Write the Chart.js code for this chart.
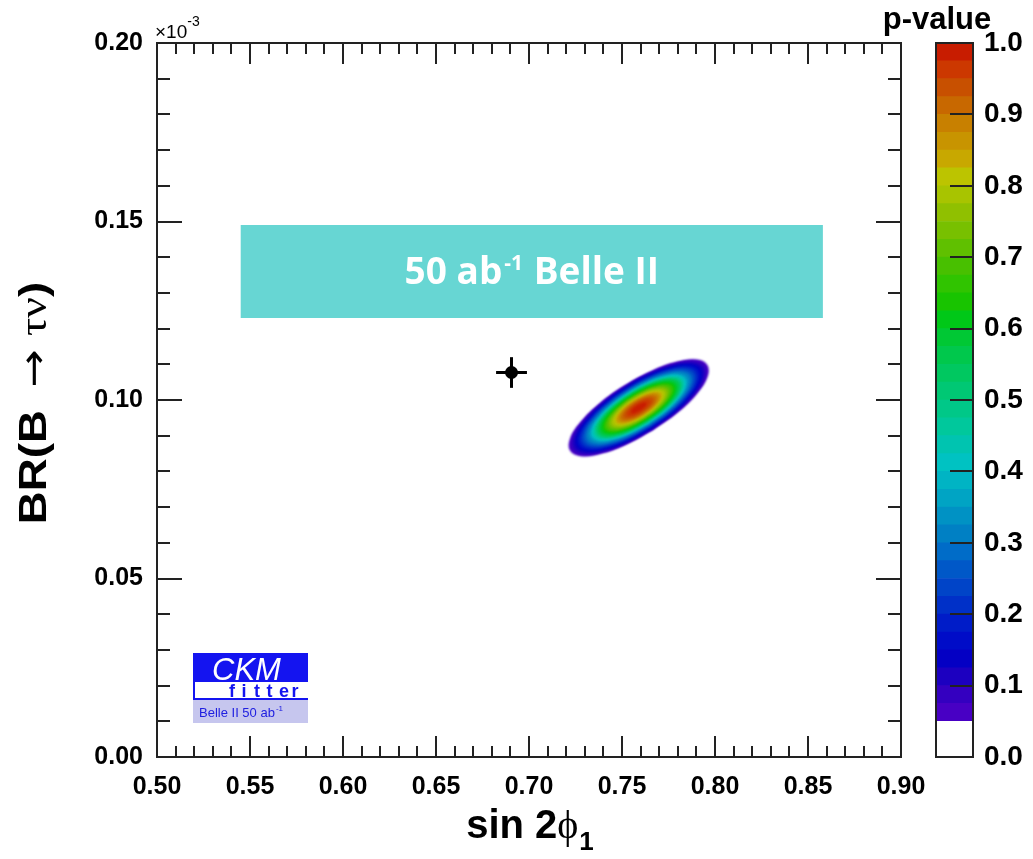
<!DOCTYPE html>
<html>
<head>
<meta charset="utf-8">
<script src="https://cdn.jsdelivr.net/npm/chart.js@4.4.1/dist/chart.umd.min.js"></script>
<style>
html,body{margin:0;padding:0;background:#fff;}
#wrap{position:relative;width:1033px;height:859px;overflow:hidden;}
#main{position:absolute;left:0;top:0;}
#scale{position:absolute;left:860px;top:0;}
</style>
</head>
<body>
<div id="wrap">
<canvas id="main" width="1033" height="859"></canvas>
<canvas id="scale" width="173" height="859"></canvas>
</div>
<script>
// ---- axes ----
const xTicks = [0.50, 0.55, 0.60, 0.65, 0.70, 0.75, 0.80, 0.85, 0.90];
const yTicks = [0.00, 0.05, 0.10, 0.15, 0.20];          // units of 1e-3
const pTicks = [0.0, 0.1, 0.2, 0.3, 0.4, 0.5, 0.6, 0.7, 0.8, 0.9, 1.0];
const xMinorStep = 0.01;
const yMinorStep = 0.01;

// ---- Belle II 50 ab^-1 projection band (sin2phi1 range, BR range) ----
const bandSin2phi = [0.545, 0.858];
const bandBR = [0.123, 0.149];

// ---- current measurement with errors ----
const measSin2phi = 0.6906, measSin2phiErr = 0.0083;
const measBR = 0.1077, measBRErr = 0.0043;

// ---- fit: best point and unit contour shape (offsets from best point) ----
const fitCenter = [0.7590, 0.0978];
const unitShapeDX = [0.00302, -0.00287, -0.00831, -0.01249, -0.01477, -0.01481, -0.01258, -0.00845,
                     -0.00302, 0.00287, 0.00831, 0.01249, 0.01477, 0.01481, 0.01258, 0.00845, 0.00302];
const unitShapeDY = [-0.00252, -0.00417, -0.00518, -0.00541, -0.00481, -0.00348, -0.00162, 0.00049,
                     0.00252, 0.00417, 0.00518, 0.00541, 0.00481, 0.00348, 0.00162, -0.00049, -0.00252];

// p-value contour levels and the size of each contour relative to the unit shape
const pLevels = [0.050, 0.075, 0.100, 0.125, 0.150, 0.175, 0.200, 0.225, 0.250, 0.275,
                 0.300, 0.325, 0.350, 0.375, 0.400, 0.425, 0.450, 0.475, 0.500, 0.525,
                 0.550, 0.575, 0.600, 0.625, 0.650, 0.675, 0.700, 0.725, 0.750, 0.775,
                 0.800, 0.825, 0.850, 0.875, 0.900, 0.925, 0.950, 0.975];
const levelScale = [2.50, 2.42, 2.35, 2.27, 2.20, 2.14, 2.08, 2.02, 1.96, 1.90,
                    1.85, 1.79, 1.73, 1.69, 1.66, 1.62, 1.58, 1.54, 1.50, 1.47,
                    1.43, 1.38, 1.33, 1.27, 1.22, 1.17, 1.11, 1.06, 1.00, 0.95,
                    0.88, 0.82, 0.76, 0.70, 0.63, 0.54, 0.43, 0.28];

// ---- p-value colour palette: band edges and colours ----
const paletteEdges = [0.000, 0.050, 0.075, 0.100, 0.125, 0.150, 0.175, 0.200, 0.225, 0.250, 0.275,
                      0.300, 0.325, 0.350, 0.375, 0.400, 0.425, 0.450, 0.475, 0.500, 0.525,
                      0.550, 0.575, 0.600, 0.625, 0.650, 0.675, 0.700, 0.725, 0.750, 0.775,
                      0.800, 0.825, 0.850, 0.875, 0.900, 0.925, 0.950, 0.975, 1.000];
const paletteColors = ['#ffffff',
  '#4800c4', '#3400c0', '#1c00c0', '#0400c4', '#000cc8', '#001cc8', '#0030c8', '#0044c8',
  '#0058c8', '#006cc8', '#0080c4', '#0092c4', '#00a4c4', '#00b4c4', '#00c2c2', '#00c4b0',
  '#00c89c', '#00c888', '#00c874', '#00c860', '#00c84c', '#00c834', '#00c818', '#18c400',
  '#30c400', '#48c000', '#60c000', '#78c000', '#90c000', '#a8c400', '#bcc400', '#c8a800',
  '#c89400', '#c88000', '#c86800', '#c85000', '#cc3800', '#c81c00'];

const SANS = '"Liberation Sans", Arial, Helvetica, sans-serif';
const SERIF = '"Liberation Serif", "Times New Roman", serif';

// text made of runs with their own fonts and offsets
function runsWidth(ctx, runs) {
  let w = 0;
  for (const r of runs) { ctx.font = r.font; w += ctx.measureText(r.t).width + (r.gap || 0); }
  return w;
}
function drawRuns(ctx, runs, x, y) {
  for (const r of runs) {
    ctx.font = r.font;
    ctx.fillText(r.t, x, y + (r.dy || 0));
    x += ctx.measureText(r.t).width + (r.gap || 0);
  }
}

function tickValues(min, max, step) {
  const out = [];
  const k0 = Math.round(min / step), k1 = Math.round(max / step);
  for (let k = k0; k <= k1; k++) out.push(k * step);
  return out;
}
const isMajor = (v, majors) => majors.some(m => Math.abs(m - v) < 1e-9);

// ---- datasets ----
const bandDataset = {
  label: 'Belle II 50 ab-1',
  data: [
    {x: bandSin2phi[0], y: bandBR[0]}, {x: bandSin2phi[1], y: bandBR[0]},
    {x: bandSin2phi[1], y: bandBR[1]}, {x: bandSin2phi[0], y: bandBR[1]},
    {x: bandSin2phi[0], y: bandBR[0]}
  ],
  showLine: true, fill: 'shape', backgroundColor: '#67d6d3', borderWidth: 0,
  pointRadius: 0, tension: 0, order: 200, role: 'band'
};

const contourDatasets = pLevels.map((p, i) => ({
  label: 'p > ' + p.toFixed(3),
  data: unitShapeDX.map((dx, j) => ({
    x: fitCenter[0] + levelScale[i] * dx,
    y: fitCenter[1] + levelScale[i] * unitShapeDY[j]
  })),
  showLine: true, fill: 'shape', backgroundColor: paletteColors[i + 1], borderWidth: 0,
  pointRadius: 0, tension: 0.4, order: 100 - i,
  role: i === pLevels.length - 1 ? 'lastContour' : 'contour'
}));

const errorDatasets = [
  { label: 'sin2phi1 error',
    data: [{x: measSin2phi - measSin2phiErr, y: measBR}, {x: measSin2phi + measSin2phiErr, y: measBR}],
    showLine: true, borderColor: '#000', borderWidth: 3, pointRadius: 0, order: 2, borderCapStyle: 'butt' },
  { label: 'BR error',
    data: [{x: measSin2phi, y: measBR - measBRErr}, {x: measSin2phi, y: measBR + measBRErr}],
    showLine: true, borderColor: '#000', borderWidth: 3, pointRadius: 0, order: 1, borderCapStyle: 'butt' },
  { label: 'measurement',
    data: [{x: measSin2phi, y: measBR}],
    showLine: false, backgroundColor: '#000', borderColor: '#000', pointRadius: 6.5, borderWidth: 0, order: 0 }
];

// ---- frame, ticks, titles and labels of the main pad ----
const framePlugin = {
  id: 'frame',
  afterDatasetDraw(chart, args) {
    const role = chart.data.datasets[args.index].role;
    if (role === 'band') chart.ctx.filter = 'blur(1.1px)';
    if (role === 'lastContour') chart.ctx.filter = 'none';
  },
  afterDraw(chart) {
    const {ctx, chartArea: a, scales: {x, y}} = chart;
    ctx.save();
    ctx.filter = 'none';
    ctx.strokeStyle = '#222';
    ctx.lineWidth = 2;
    ctx.lineCap = 'butt';
    ctx.beginPath();
    for (const v of tickValues(x.min, x.max, xMinorStep)) {
      const px = Math.round(x.getPixelForValue(v));
      const len = isMajor(v, xTicks) ? 21 : 11;
      ctx.moveTo(px, a.bottom); ctx.lineTo(px, a.bottom - len);
      ctx.moveTo(px, a.top); ctx.lineTo(px, a.top + len);
    }
    for (const v of tickValues(y.min, y.max, yMinorStep)) {
      const py = Math.round(y.getPixelForValue(v));
      const len = isMajor(v, yTicks) ? 25 : 13;
      ctx.moveTo(a.left, py); ctx.lineTo(a.left + len, py);
      ctx.moveTo(a.right, py); ctx.lineTo(a.right - len, py);
    }
    ctx.stroke();
    ctx.strokeRect(a.left, a.top, a.right - a.left, a.bottom - a.top);

    ctx.fillStyle = '#000';
    ctx.textAlign = 'left';
    ctx.textBaseline = 'alphabetic';
    // exponent of the y axis
    drawRuns(ctx, [
      {t: '\u00d710', font: '19px ' + SANS},
      {t: '-3', font: '14px ' + SANS, dy: -12}
    ], a.left - 2, a.top - 5);

    // x axis title
    const xt = [
      {t: 'sin 2', font: 'bold 40px ' + SANS},
      {t: '\u03d5', font: '40px ' + SERIF, gap: 1},
      {t: '1', font: 'bold 26px ' + SANS, dy: 12}
    ];
    drawRuns(ctx, xt, 530 - runsWidth(ctx, xt) / 2, 838);

    // y axis title (wide glyphs along the text direction)
    const yt = [
      {t: 'BR(B', font: 'bold 38px ' + SANS, gap: 19},
      {t: '\u2192', font: '38px "DejaVu Sans", sans-serif', gap: 11},
      {t: '\u03c4\u03bd', font: '38px ' + SERIF},
      {t: ')', font: 'bold 38px ' + SANS}
    ];
    ctx.save();
    ctx.translate(46, 403);
    ctx.rotate(-Math.PI / 2);
    ctx.scale(1.2, 1);
    drawRuns(ctx, yt, -runsWidth(ctx, yt) / 2, 0);
    ctx.restore();

    // label of the projection band
    const bx = (x.getPixelForValue(bandSin2phi[0]) + x.getPixelForValue(bandSin2phi[1])) / 2;
    const by = (y.getPixelForValue(bandBR[0]) + y.getPixelForValue(bandBR[1])) / 2;
    const bt = [
      {t: '50 ab', font: 'bold 37px "Open Sans", sans-serif', gap: 2},
      {t: '-1', font: 'bold 21px "Open Sans", sans-serif', dy: -14, gap: 1},
      {t: ' Belle II', font: 'bold 37px "Open Sans", sans-serif'}
    ];
    ctx.fillStyle = '#ffffff';
    drawRuns(ctx, bt, bx - runsWidth(ctx, bt) / 2, by + 13);

    // CKMfitter logo
    const lx = a.left + 36, ly = a.bottom - 104;
    ctx.fillStyle = '#1414f0';
    ctx.fillRect(lx, ly, 115, 29);
    ctx.fillStyle = '#ffffff';
    ctx.fillRect(lx, ly + 29, 115, 18);
    ctx.strokeStyle = '#1414f0';
    ctx.lineWidth = 2;
    ctx.beginPath();
    ctx.moveTo(lx + 1, ly + 29); ctx.lineTo(lx + 1, ly + 46); ctx.lineTo(lx + 115, ly + 46);
    ctx.stroke();
    ctx.fillStyle = '#c6c6ee';
    ctx.fillRect(lx, ly + 47, 115, 23);
    ctx.fillStyle = '#ffffff';
    ctx.font = 'italic 31px ' + SANS;
    ctx.fillText('CKM', lx + 19, ly + 27);
    ctx.fillStyle = '#1414f0';
    ctx.font = 'bold 18px ' + SANS;
    let fx = lx + 36;
    for (const ch of 'fitter') { ctx.fillText(ch, fx, ly + 44); fx += 12.5; }
    ctx.fillStyle = '#2020e0';
    drawRuns(ctx, [
      {t: 'Belle II 50 ab', font: '13px ' + SANS, gap: 1},
      {t: '-1', font: '8px ' + SANS, dy: -6}
    ], lx + 6, ly + 64);
    ctx.restore();
  }
};

new Chart(document.getElementById('main'), {
  type: 'scatter',
  data: { datasets: [bandDataset, ...contourDatasets, ...errorDatasets] },
  options: {
    responsive: false,
    animation: false,
    devicePixelRatio: 1,
    layout: { padding: { top: 43, right: 132, left: 0, bottom: 0 } },
    plugins: { legend: { display: false }, tooltip: { enabled: false } },
    scales: {
      x: {
        type: 'linear', min: xTicks[0], max: xTicks[xTicks.length - 1],
        afterBuildTicks: s => { s.ticks = xTicks.map(v => ({ value: v })); },
        afterFit: s => { s.height = 102; },
        grid: { display: false, drawTicks: false },
        border: { display: false },
        ticks: {
          autoSkip: false, maxRotation: 0, padding: 15, color: '#000',
          font: { family: SANS, weight: 'bold', size: 25 },
          callback: v => Number(v).toFixed(2)
        }
      },
      y: {
        type: 'linear', min: yTicks[0], max: yTicks[yTicks.length - 1],
        afterBuildTicks: s => { s.ticks = yTicks.map(v => ({ value: v })); },
        afterFit: s => { s.width = 157; },
        grid: { display: false, drawTicks: false },
        border: { display: false },
        ticks: {
          autoSkip: false, padding: 14, color: '#000',
          font: { family: SANS, weight: 'bold', size: 25 },
          callback: v => Number(v).toFixed(2)
        }
      }
    }
  },
  plugins: [framePlugin]
});

// ---- p-value colour scale ----
const scalePlugin = {
  id: 'scaleFrame',
  afterDraw(chart) {
    const {ctx, chartArea: a, scales: {y}} = chart;
    ctx.save();
    ctx.strokeStyle = '#222';
    ctx.lineWidth = 2;
    ctx.beginPath();
    for (const v of pTicks) {
      if (v <= y.min || v >= y.max) continue;
      const py = Math.round(y.getPixelForValue(v));
      ctx.moveTo(a.right, py); ctx.lineTo(a.right - 23, py);
    }
    ctx.stroke();
    ctx.strokeRect(a.left, a.top, a.right - a.left, a.bottom - a.top);
    ctx.fillStyle = '#000';
    ctx.font = 'bold 31px ' + SANS;
    ctx.textAlign = 'center';
    ctx.textBaseline = 'alphabetic';
    ctx.fillText('p-value', a.left + 1, 29);
    ctx.restore();
  }
};

new Chart(document.getElementById('scale'), {
  type: 'bar',
  data: {
    labels: ['p-value'],
    datasets: paletteColors.map((c, i) => ({
      label: paletteEdges[i].toFixed(3),
      data: [[paletteEdges[i], paletteEdges[i + 1]]],
      backgroundColor: c, borderWidth: 0,
      barPercentage: 1, categoryPercentage: 1, grouped: false
    }))
  },
  options: {
    responsive: false,
    animation: false,
    devicePixelRatio: 1,
    layout: { padding: { left: 76, top: 43, bottom: 102, right: 0 } },
    plugins: { legend: { display: false }, tooltip: { enabled: false } },
    scales: {
      x: { display: false },
      y: {
        position: 'right', min: 0, max: 1,
        afterBuildTicks: s => { s.ticks = pTicks.map(v => ({ value: v })); },
        afterFit: s => { s.width = 60; },
        grid: { display: false, drawTicks: false },
        border: { display: false },
        ticks: {
          padding: 11, color: '#000',
          font: { family: SANS, weight: 'bold', size: 28 },
          callback: v => Number(v).toFixed(1)
        }
      }
    }
  },
  plugins: [scalePlugin]
});
</script>
</body>
</html>
